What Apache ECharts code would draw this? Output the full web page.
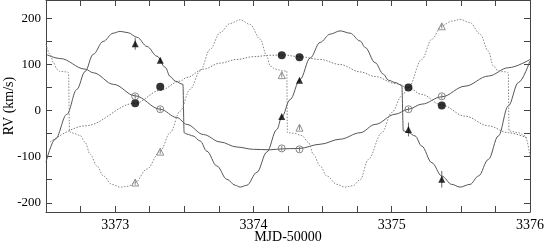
<!DOCTYPE html>
<html><head><meta charset="utf-8">
<script src="https://cdn.jsdelivr.net/npm/echarts@6/dist/echarts.min.js"></script>
<style>html,body{margin:0;padding:0;background:#fff}#c{width:545px;height:245px}</style>
</head><body><div id="c"></div>
<script>
// tick labels
const xLabels = [3373, 3374, 3375, 3376];
const xTickVals = [3372.75, 3373, 3373.25, 3373.5, 3373.75, 3374, 3374.25, 3374.5, 3374.75, 3375, 3375.25, 3375.5, 3375.75];
const yLabels = [-200, -100, 0, 100, 200];
const yTickVals = [-200, -150, -100, -50, 0, 50, 100, 150, 200];

// model curves (MJD-50000, RV km/s)
const fastSolid = [
  [3372.5,-112],[3372.567,-62],[3372.651,-8],[3372.723,46],[3372.783,85],[3372.841,122],[3372.913,150],
  [3372.986,168],[3373.036,172],[3373.094,169],[3373.159,159],[3373.231,139],[3373.303,118],[3373.362,94],
  [3373.398,74],[3373.434,64],[3373.490,57],[3373.499,-48],[3373.519,-51],[3373.564,-55],[3373.615,-66],
  [3373.663,-88],[3373.735,-120],[3373.808,-149],[3373.868,-162],[3373.904,-166],[3373.952,-162],
  [3374.025,-134],[3374.097,-90],[3374.169,-41],[3374.205,-14],[3374.265,24],[3374.338,68],[3374.410,114],
  [3374.482,148],[3374.555,166],[3374.627,173],[3374.699,168],[3374.772,151],[3374.808,137],[3374.880,104],
  [3374.940,79],[3374.976,66],[3375.024,61],[3375.073,55],[3375.084,-44],[3375.121,-48],[3375.169,-55],
  [3375.217,-77],[3375.290,-113],[3375.362,-142],[3375.434,-160],[3375.494,-166],[3375.567,-160],
  [3375.627,-142],[3375.699,-106],[3375.771,-55],[3375.843,10],[3375.916,61],[3376.0,108]
];
const fastDotted = [
  [3372.5,144],[3372.530,122],[3372.554,104],[3372.579,90],[3372.603,85],[3372.651,84],[3372.663,82],
  [3372.670,-46],[3372.699,-49],[3372.747,-54],[3372.783,-69],[3372.820,-95],[3372.868,-120],[3372.916,-142],
  [3372.976,-160],[3373.036,-166],[3373.096,-164],[3373.145,-156],[3373.229,-127],[3373.326,-88],[3373.398,-48],
  [3373.470,-1],[3373.542,46],[3373.615,86],[3373.687,133],[3373.759,169],[3373.832,189],[3373.904,197],
  [3373.976,187],[3374.049,155],[3374.097,118],[3374.121,97],[3374.157,90],[3374.217,86],[3374.241,86],
  [3374.246,-48],[3374.289,-49],[3374.350,-54],[3374.398,-69],[3374.434,-95],[3374.482,-120],[3374.531,-142],
  [3374.603,-160],[3374.660,-166],[3374.720,-163],[3374.772,-150],[3374.831,-106],[3374.928,-48],[3375.001,-4],
  [3375.073,32],[3375.121,50],[3375.217,111],[3375.290,155],[3375.362,184],[3375.434,194],[3375.494,198],
  [3375.567,191],[3375.639,166],[3375.699,129],[3375.735,97],[3375.771,86],[3375.832,84],[3375.843,82],
  [3375.848,-44],[3375.916,-48],[3375.965,-55],[3376.0,-99]
];
const slowSolid = [
  [3372.5,122],[3372.603,113],[3372.783,90],[3372.843,82],[3372.988,57],[3373.145,32],[3373.326,3],
  [3373.446,-15],[3373.519,-30],[3373.639,-52],[3373.759,-68],[3373.880,-79],[3374.000,-84],[3374.121,-85],
  [3374.210,-83],[3374.333,-82],[3374.482,-73],[3374.627,-62],[3374.772,-48],[3374.880,-30],[3375.024,-8],
  [3375.121,3],[3375.217,14],[3375.362,30],[3375.530,53],[3375.699,75],[3375.843,93],[3376.0,111]
];
const slowDotted = [
  [3372.530,-68],[3372.783,-33],[3373.145,16],[3373.326,44],[3373.470,64],[3373.519,72],[3373.639,90],
  [3373.759,103],[3373.880,111],[3374.000,117],[3374.121,120],[3374.210,121],[3374.333,117],[3374.482,111],
  [3374.627,100],[3374.772,84],[3374.880,74],[3375.024,59],[3375.121,50],[3375.217,35],[3375.362,12],
  [3375.530,-12],[3375.699,-33],[3375.843,-48],[3375.976,-59]
];

// observations
const obsTimes = [3373.145, 3373.326, 3374.205, 3374.333, 3375.121, 3375.362];
const filledTri = [145, 109, -13, 66, -41, -149];
const filledTriErr = [13, 5, 4, 4, 15, 18];
const openTri = [-156, -89, 77, -37, null, 183];
const openTriErr = [5, 5, 5, 5, 0, 5];
const filledCirc = [16, 52, 120, 116, 50, 11];
const openCirc = [31, 3, -82, -84, 3, 31];
const openCircErr = [5, 5, 5, 5, 5, 5];

const chart = echarts.init(document.getElementById('c'), null, {renderer: 'canvas'});
const FONT = 'Liberation Serif';
const lineCol = '#444';

function pts(vals) { return obsTimes.map((t, i) => [t, vals[i]]).filter(d => d[1] != null); }
function errSeries(vals, errs, color) {
  return {
    type: 'custom', silent: true, z: 4,
    renderItem: (params, api) => {
      const x = api.value(0), y = api.value(1), e = api.value(2);
      const p1 = api.coord([x, y - e]), p2 = api.coord([x, y + e]);
      return {type: 'line', shape: {x1: p1[0], y1: p1[1], x2: p2[0], y2: p2[1]}, style: {stroke: color, lineWidth: 1}};
    },
    data: obsTimes.map((t, i) => [t, vals[i], errs[i]]).filter(d => d[1] != null)
  };
}
function curve(data, dotted, color) {
  return {type: 'line', data: data, showSymbol: false, smooth: 0.35, smoothMonotone: 'x', silent: true, z: 2,
    lineStyle: {color: color, width: 1, type: dotted ? [1.5, 1.5] : 'solid'}};
}
const baseX = {
  type: 'value', min: 3372.5, max: 3376,
  axisLine: {show: true, onZero: false, lineStyle: {color: lineCol, width: 1}},
  axisTick: {show: true, inside: true, length: 6, customValues: xTickVals, lineStyle: {color: lineCol}},
  splitLine: {show: false}
};
const baseY = {
  type: 'value', min: -220, max: 240,
  axisLine: {show: true, onZero: false, lineStyle: {color: lineCol, width: 1}},
  axisTick: {show: true, inside: true, length: 6, customValues: yTickVals, lineStyle: {color: lineCol}},
  splitLine: {show: false}
};

chart.setOption({
  animation: false,
  grid: {left: 46, right: 15, top: 0, bottom: 33, containLabel: false, outerBoundsMode: 'none'},
  xAxis: [
    Object.assign({}, baseX, {position: 'bottom', name: 'MJD-50000', nameLocation: 'middle', nameGap: 18,
      nameMoveOverlap: false,
      nameTextStyle: {fontFamily: FONT, fontSize: 14, color: '#000'},
      axisLabel: {show: true, customValues: xLabels, margin: 6, fontFamily: FONT, fontSize: 14, color: '#000',
        formatter: v => String(v)}}),
    Object.assign({}, baseX, {position: 'top', axisLabel: {show: false}})
  ],
  yAxis: [
    Object.assign({}, baseY, {position: 'left', name: 'RV (km/s)', nameLocation: 'middle', nameGap: 30,
      nameMoveOverlap: false,
      nameTextStyle: {fontFamily: FONT, fontSize: 14, color: '#000'},
      axisLabel: {show: true, customValues: yLabels, margin: 5, fontFamily: FONT, fontSize: 13, color: '#000',
        formatter: v => String(v)}}),
    Object.assign({}, baseY, {position: 'right', axisLabel: {show: false}})
  ],
  series: [
    curve(slowSolid, false, '#555'),
    curve(slowDotted, true, '#777'),
    curve(fastSolid, false, '#555'),
    curve(fastDotted, true, '#888'),
    errSeries(filledTri, filledTriErr, '#666'),
    errSeries(openTri, openTriErr, '#888'),
    errSeries(openCirc, openCircErr, '#777'),
    {type: 'scatter', data: pts(filledTri), symbol: 'triangle', symbolSize: 7, z: 5, itemStyle: {color: '#000'}},
    {type: 'scatter', data: pts(openTri), symbol: 'triangle', symbolSize: 7, z: 5,
      itemStyle: {color: 'rgba(0,0,0,0)', borderColor: '#777', borderWidth: 1}},
    {type: 'scatter', data: pts(filledCirc), symbol: 'circle', symbolSize: 8, z: 5, itemStyle: {color: '#000'}},
    {type: 'scatter', data: pts(openCirc), symbol: 'circle', symbolSize: 7, z: 5,
      itemStyle: {color: 'rgba(0,0,0,0)', borderColor: '#666', borderWidth: 1}}
  ]
});
</script></body></html>
